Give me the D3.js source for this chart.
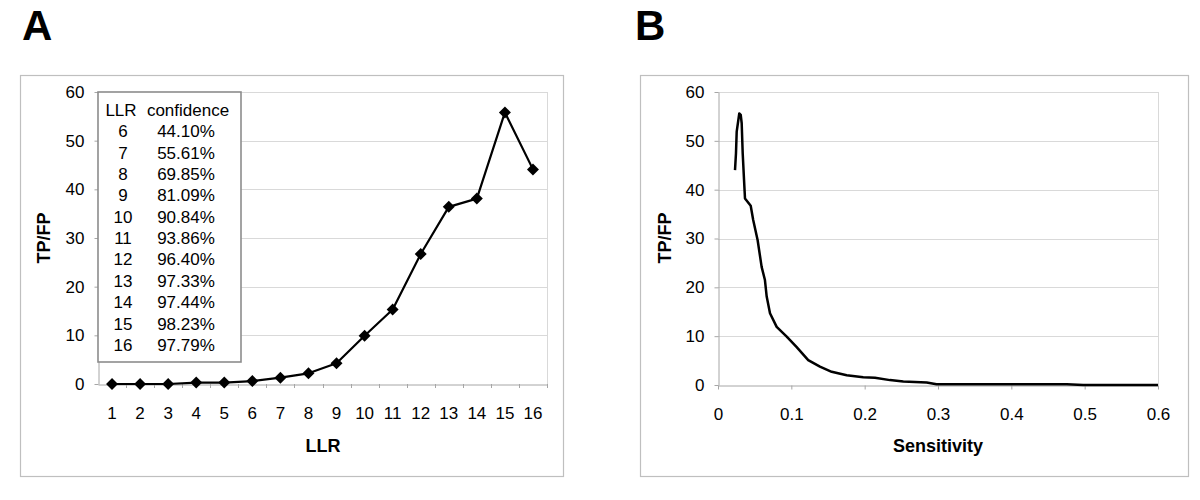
<!DOCTYPE html>
<html>
<head>
<meta charset="utf-8">
<script src="https://cdn.jsdelivr.net/npm/d3@7"></script>
<style>
  html, body { margin: 0; padding: 0; background: #fff; }
  svg { display: block; font-family: "Liberation Sans", Arial, sans-serif; }
</style>
</head>
<body>
<svg id="chart" width="1200" height="500"></svg>
<script>
// ---------- DATA ----------
const llr = [1, 2, 3, 4, 5, 6, 7, 8, 9, 10, 11, 12, 13, 14, 15, 16];
const tpfpA = [0.0, 0.0, 0.0, 0.3, 0.3, 0.6, 1.3, 2.2, 4.25, 9.9, 15.3, 26.7, 36.4, 38.1, 55.8, 44.1];
const legendLLR = [6, 7, 8, 9, 10, 11, 12, 13, 14, 15, 16];
const legendConf = ["44.10%", "55.61%", "69.85%", "81.09%", "90.84%", "93.86%", "96.40%", "97.33%", "97.44%", "98.23%", "97.79%"];
const yTicks = [0, 10, 20, 30, 40, 50, 60];
const sensitivity = [0.0232, 0.0245, 0.0255, 0.029, 0.031, 0.0323, 0.0337, 0.0355, 0.0368, 0.0446, 0.048, 0.054, 0.0595, 0.064, 0.0664, 0.0709, 0.08, 0.0937, 0.107, 0.123, 0.139, 0.155, 0.1755, 0.198, 0.214, 0.2345, 0.2527, 0.2846, 0.298, 0.4755, 0.498, 0.6];
const tpfpB = [44.0, 47.4, 51.9, 55.6, 55.3, 53.6, 47.4, 42.0, 38.2, 36.7, 33.8, 29.7, 24.2, 21.5, 18.1, 14.7, 11.9, 9.9, 7.8, 5.1, 3.75, 2.7, 2.0, 1.6, 1.5, 1.0, 0.7, 0.5, 0.15, 0.15, 0.0, 0.0];
const xTicksB = [0, 0.1, 0.2, 0.3, 0.4, 0.5, 0.6];

// ---------- STYLE ----------
const gridColor = "#d9d9d9";
const axisColor = "#a6a6a6";
const frameColor = "#bfbfbf";
const tickFont = 17;
const titleFont = 18;

const svg = d3.select("#chart");

function frame(x, y, w, h) {
  svg.append("rect").attr("x", x + 0.5).attr("y", y + 0.5).attr("width", w).attr("height", h)
    .attr("fill", "none").attr("stroke", frameColor).attr("stroke-width", 1.2);
}
function panelLetter(t, x) {
  svg.append("text").attr("x", x).attr("y", 40).attr("font-size", 42).attr("font-weight", "bold").text(t);
}

function yAxisAndGrid(g, y, left, right) {
  g.append("g").selectAll("line").data(yTicks.filter(d => d > 0)).join("line")
    .attr("x1", left).attr("x2", right).attr("y1", d => Math.round(y(d)) + 0.5).attr("y2", d => Math.round(y(d)) + 0.5)
    .attr("stroke", gridColor).attr("stroke-width", 1);
  g.append("line").attr("x1", right + 0.5).attr("x2", right + 0.5).attr("y1", y(60)).attr("y2", y(0))
    .attr("stroke", gridColor);
  const ax = g.append("g").attr("transform", `translate(${left + 0.5},0)`)
    .call(d3.axisLeft(y).tickValues(yTicks).tickSize(4).tickSizeOuter(0).tickPadding(10));
  ax.select(".domain").attr("stroke", axisColor);
  ax.selectAll(".tick line").attr("stroke", axisColor);
  ax.selectAll("text").attr("font-size", tickFont).attr("font-family", "Liberation Sans, Arial, sans-serif").attr("fill", "#000");
}

function yTitle(x, yc) {
  svg.append("text").attr("transform", `translate(${x},${yc}) rotate(-90)`).attr("text-anchor", "middle")
    .attr("font-size", titleFont).attr("font-weight", "bold").text("TP/FP");
}
function xTitle(t, x) {
  svg.append("text").attr("x", x).attr("y", 452).attr("text-anchor", "middle")
    .attr("font-size", titleFont).attr("font-weight", "bold").text(t);
}

// ---------- PANEL A ----------
panelLetter("A", 22);
frame(20, 75, 543, 401);
{
  const L = 98, R = 547, T = 92, B = 384;
  const g = svg.append("g");
  const x = d3.scaleBand().domain(llr).range([L, R]);
  const y = d3.scaleLinear().domain([0, 60]).range([B, T]);
  yAxisAndGrid(g, y, L, R);

  const xa = g.append("g").attr("transform", `translate(0,${B + 0.5})`)
    .call(d3.axisBottom(x).tickSize(0).tickSizeOuter(0).tickPadding(22));
  xa.select(".domain").attr("stroke", axisColor);
  xa.selectAll("text").attr("font-size", tickFont).attr("font-family", "Liberation Sans, Arial, sans-serif").attr("fill", "#000");
  g.append("g").selectAll("line").data(llr.slice(1).concat([null])).join("line")
    .attr("x1", d => d === null ? R + 0.5 : Math.round(x(d)) + 0.5)
    .attr("x2", d => d === null ? R + 0.5 : Math.round(x(d)) + 0.5)
    .attr("y1", B).attr("y2", B + 4).attr("stroke", axisColor);

  const cx = d => x(d) + x.bandwidth() / 2;
  g.append("path").datum(llr.map((d, i) => [d, tpfpA[i]]))
    .attr("fill", "none").attr("stroke", "#000").attr("stroke-width", 2.2).attr("stroke-linejoin", "round")
    .attr("d", d3.line().x(d => cx(d[0])).y(d => y(d[1])));
  const sym = d3.symbol().type(d3.symbolSquare).size(72);
  g.append("g").selectAll("path").data(llr.map((d, i) => [d, tpfpA[i]])).join("path")
    .attr("transform", d => `translate(${cx(d[0])},${y(d[1])}) rotate(45)`)
    .attr("d", sym).attr("fill", "#000");

  // legend table
  const lx = 98, ly = 92, lw = 143, lh = 270;
  g.append("rect").attr("x", lx).attr("y", ly).attr("width", lw).attr("height", lh)
    .attr("fill", "#fff").attr("stroke", "#8c8c8c").attr("stroke-width", 1.6);
  const rowY = i => 116 + i * 21.35;
  g.append("text").attr("x", 121).attr("y", rowY(0)).attr("text-anchor", "middle").attr("font-size", tickFont).text("LLR");
  g.append("text").attr("x", 188).attr("y", rowY(0)).attr("text-anchor", "middle").attr("font-size", tickFont).text("confidence");
  g.append("g").selectAll("text").data(legendLLR).join("text")
    .attr("x", 123).attr("y", (d, i) => rowY(i + 1)).attr("text-anchor", "middle").attr("font-size", tickFont).text(d => d);
  g.append("g").selectAll("text").data(legendConf).join("text")
    .attr("x", 186).attr("y", (d, i) => rowY(i + 1)).attr("text-anchor", "middle").attr("font-size", tickFont).text(d => d);

  yTitle(50, 238);
  xTitle("LLR", 323);
}

// ---------- PANEL B ----------
panelLetter("B", 635);
frame(640, 75, 548, 401);
{
  const L = 718, R = 1158, T = 92, B = 385;
  const g = svg.append("g");
  const x = d3.scaleLinear().domain([0, 0.6]).range([L, R]);
  const y = d3.scaleLinear().domain([0, 60]).range([B, T]);
  yAxisAndGrid(g, y, L, R);

  const xa = g.append("g").attr("transform", `translate(0,${B + 0.5})`)
    .call(d3.axisBottom(x).tickValues(xTicksB).tickFormat(d3.format("")).tickSize(4).tickSizeOuter(0).tickPadding(18));
  xa.select(".domain").attr("stroke", axisColor);
  xa.selectAll(".tick line").attr("stroke", axisColor);
  xa.selectAll("text").attr("font-size", tickFont).attr("font-family", "Liberation Sans, Arial, sans-serif").attr("fill", "#000");

  g.append("path").datum(sensitivity.map((d, i) => [d, tpfpB[i]]))
    .attr("fill", "none").attr("stroke", "#000").attr("stroke-width", 2.5).attr("stroke-linejoin", "round")
    .attr("d", d3.line().x(d => x(d[0])).y(d => y(d[1])));

  yTitle(671, 238);
  xTitle("Sensitivity", 938);
}
</script>
</body>
</html>
